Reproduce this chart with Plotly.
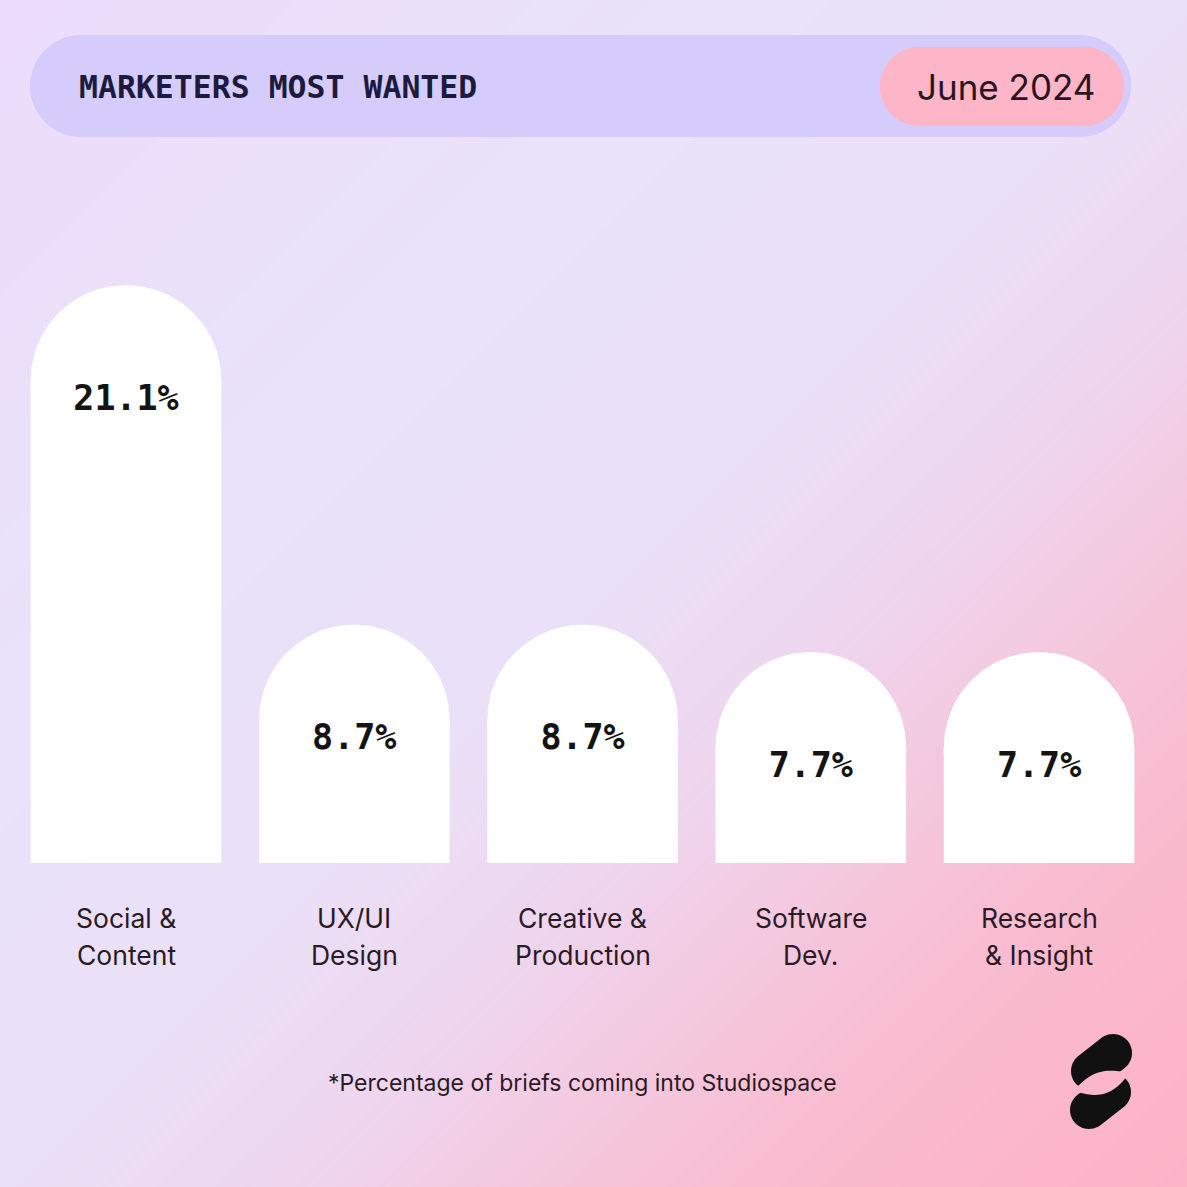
import numpy as np
import plotly.graph_objects as go

# ---------------- data ----------------
categories = ["Social &\nContent", "UX/UI\nDesign", "Creative &\nProduction",
              "Software\nDev.", "Research\n& Insight"]
values = [21.1, 8.7, 8.7, 7.7, 7.7]
value_labels = ["21.1%", "8.7%", "8.7%", "7.7%", "7.7%"]
title_text = "MARKETERS MOST WANTED"
date_text = "June 2024"
footnote_text = "*Percentage of briefs coming into Studiospace"

# ---------------- geometry / style ----------------
W = H = 1187
X_RANGE = [-0.552, 4.648]
Y_RANGE = [-11.828, 31.505]
BAR_W = 0.835
px_per_x = W / (X_RANGE[1] - X_RANGE[0])
px_per_y = H / (Y_RANGE[1] - Y_RANGE[0])
r_px = BAR_W / 2 * px_per_x
r_y = r_px / px_per_y
LABEL_OFFSET = 116 / px_per_y

xs = list(range(len(values)))


def P(x, y):
    """pixel (from top-left) -> paper coords"""
    return x / W, 1 - y / H


def pill_path(x0, y0, x1, y1):
    r = (y1 - y0) / 2
    k = 0.5523 * r
    def f(x, y):
        a, b = P(x, y)
        return f"{a:.5f},{b:.5f}"
    s = "M " + f(x0 + r, y0)
    s += " L " + f(x1 - r, y0)
    s += " C " + f(x1 - r + k, y0) + " " + f(x1, y0 + r - k) + " " + f(x1, y0 + r)
    s += " C " + f(x1, y0 + r + k) + " " + f(x1 - r + k, y1) + " " + f(x1 - r, y1)
    s += " L " + f(x0 + r, y1)
    s += " C " + f(x0 + r - k, y1) + " " + f(x0, y0 + r + k) + " " + f(x0, y0 + r)
    s += " C " + f(x0, y0 + r - k) + " " + f(x0 + r - k, y0) + " " + f(x0 + r, y0)
    s += " Z"
    return s


def poly_path(points):
    s = ""
    for i, (x, y) in enumerate(points):
        a, b = P(x, y)
        s += ("M " if i == 0 else " L ") + f"{a:.5f},{b:.5f}"
    return s + " Z"


def capsule(ax, ay, bx, by, r, n=24):
    dx, dy = bx - ax, by - ay
    ang = np.arctan2(dy, dx)
    pts = []
    for t in np.linspace(-np.pi / 2, np.pi / 2, n):
        pts.append((bx + r * np.cos(ang + t), by + r * np.sin(ang + t)))
    for t in np.linspace(np.pi / 2, 3 * np.pi / 2, n):
        pts.append((ax + r * np.cos(ang + t), ay + r * np.sin(ang + t)))
    return pts


def lens(lx, ly, rx, ry, h_up, h_dn, n=30):
    dx, dy = rx - lx, ry - ly
    L = np.hypot(dx, dy)
    nx, ny = dy / L, -dx / L  # normal pointing "up" (negative y)
    pts = []
    for s in np.linspace(0, 1, n):
        o = h_up * np.sin(np.pi * s)
        pts.append((lx + s * dx + nx * o, ly + s * dy + ny * o))
    for s in np.linspace(1, 0, n)[1:-1]:
        o = h_dn * np.sin(np.pi * s)
        pts.append((lx + s * dx - nx * o, ly + s * dy - ny * o))
    return pts


fig = go.Figure()

# background gradient (decoration)
N = 60
gx = np.linspace(0, 1, N)
gy = np.linspace(0, 1, N)
Z = gx[None, :] + (1 - gy[:, None])
fig.add_trace(go.Heatmap(
    x=gx, y=gy, z=Z, zmin=0, zmax=2, zsmooth="best", showscale=False, hoverinfo="skip",
    colorscale=[[0.0, "#EDDCFC"], [0.3, "#E9E2F9"], [0.5, "#EAE0F7"], [0.62, "#EED6EF"],
                [0.72, "#F4C8DE"], [0.82, "#F9BCD0"], [0.92, "#FCB6CA"], [1.0, "#FDB3C6"]],
    xaxis="x", yaxis="y"))

# bar bodies
fig.add_trace(go.Bar(
    x=xs, y=[v - r_y for v in values], width=BAR_W,
    marker=dict(color="#FFFFFF", line=dict(width=0)),
    hoverinfo="skip", xaxis="x2", yaxis="y2"))

# rounded caps
cx, cy = [], []
for x, v in zip(xs, values):
    base = v - r_y
    for t in np.linspace(0, np.pi, 80):
        cx.append(x + BAR_W / 2 * np.cos(t))
        cy.append(base + r_y * np.sin(t))
    cx += [x - BAR_W / 2, x + BAR_W / 2, None]
    cy += [base - 0.3, base - 0.3, None]
fig.add_trace(go.Scatter(
    x=cx, y=cy, mode="lines", fill="toself", fillcolor="#FFFFFF",
    line=dict(width=0, color="rgba(0,0,0,0)"), hoverinfo="skip",
    xaxis="x2", yaxis="y2"))

# value labels
fig.add_trace(go.Scatter(
    x=xs, y=[v - LABEL_OFFSET for v in values], mode="text", text=value_labels,
    textposition="middle center",
    textfont=dict(family="DejaVu Sans Mono", size=35, color="#141414", weight="bold"),
    hoverinfo="skip", xaxis="x2", yaxis="y2"))

shapes = []
# header pills
shapes.append(dict(type="path", xref="paper", yref="paper", path=pill_path(30, 35, 1131, 137),
                   fillcolor="#D6CCFB", line=dict(width=0), layer="above"))
shapes.append(dict(type="path", xref="paper", yref="paper", path=pill_path(880, 47, 1124, 126),
                   fillcolor="#FDB5C8", line=dict(width=0), layer="above"))
# logo
shapes.append(dict(type="path", xref="paper", yref="paper",
                   path=poly_path(capsule(1090, 1071, 1113, 1053, 19)),
                   fillcolor="#111111", line=dict(width=0), layer="above"))
shapes.append(dict(type="path", xref="paper", yref="paper",
                   path=poly_path(capsule(1112, 1092, 1089, 1110, 19)),
                   fillcolor="#111111", line=dict(width=0), layer="above"))
shapes.append(dict(type="path", xref="paper", yref="paper",
                   path=poly_path(lens(1073, 1091, 1130, 1073, 10, 12)),
                   fillcolor="#FCB6CA", line=dict(width=0), layer="above"))

annotations = []
hx, hy = P(77, 87)
annotations.append(dict(text=title_text, x=hx, y=hy, xref="paper", yref="paper",
                        xanchor="left", yanchor="middle", showarrow=False,
                        font=dict(family="DejaVu Sans Mono", size=31.5, color="#1C1B3E", weight="bold")))
dx_, dy_ = P(1006, 87)
annotations.append(dict(text=date_text, x=dx_, y=dy_, xref="paper", yref="paper",
                        xanchor="center", yanchor="middle", showarrow=False,
                        font=dict(family="Inter", size=35, color="#2A1420")))
for i, cat in enumerate(categories):
    for j, line in enumerate(cat.split("\n")):
        _, ly = P(0, 918 + 37 * j)
        annotations.append(dict(text=line, x=xs[i], y=ly, xref="x2", yref="paper",
                                xanchor="center", yanchor="middle", showarrow=False,
                                font=dict(family="Inter", size=26.5, color="#2A1A24")))
fx, fy = P(582, 1083)
annotations.append(dict(text=footnote_text, x=fx, y=fy, xref="paper", yref="paper",
                        xanchor="center", yanchor="middle", showarrow=False,
                        font=dict(family="Inter", size=23, color="#2A1A24")))

fig.update_layout(
    width=W, height=H, autosize=False,
    margin=dict(l=0, r=0, t=0, b=0, pad=0),
    paper_bgcolor="#EAE0F8", plot_bgcolor="rgba(0,0,0,0)",
    showlegend=False, barmode="overlay",
    xaxis=dict(range=[0, 1], visible=False, fixedrange=True),
    yaxis=dict(range=[0, 1], visible=False, fixedrange=True),
    xaxis2=dict(range=X_RANGE, visible=False, overlaying="x", anchor="y2", fixedrange=True),
    yaxis2=dict(range=Y_RANGE, visible=False, overlaying="y", anchor="x2", fixedrange=True),
    shapes=shapes, annotations=annotations,
)

fig.write_html("out.html", config={"displayModeBar": False},
               post_script="document.body.style.margin='0';document.body.style.overflow='hidden';")
